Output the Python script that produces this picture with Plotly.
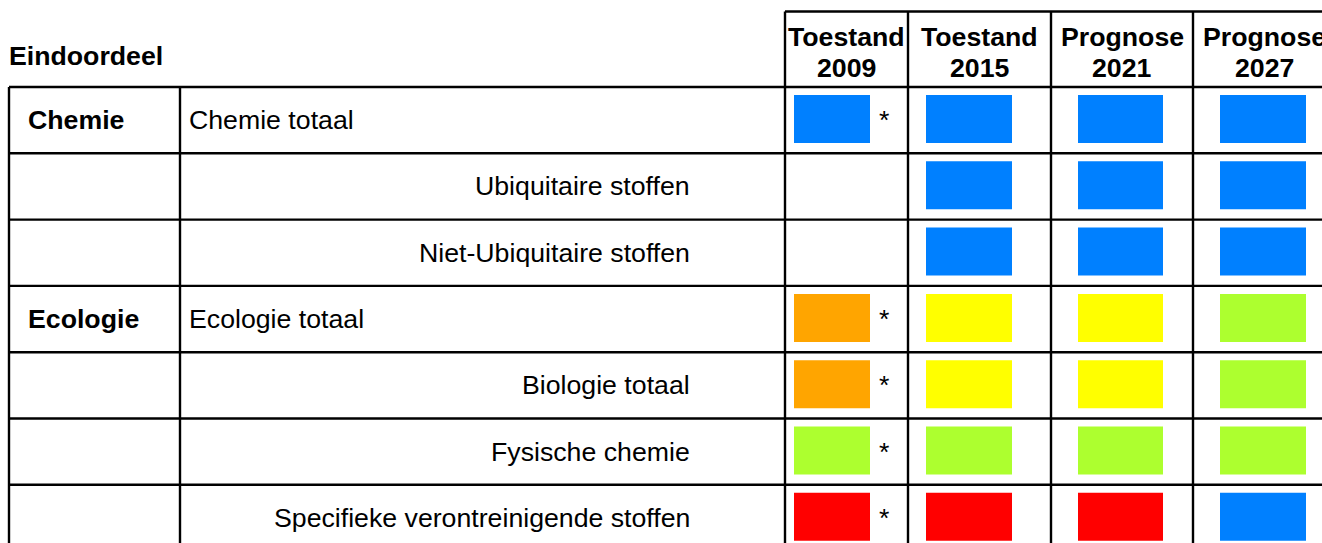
import plotly.graph_objects as go

# ---------------- data ----------------
groups = ["Chemie", "", "", "Ecologie", "", "", ""]
rows = ["Chemie totaal", "Ubiquitaire stoffen", "Niet-Ubiquitaire stoffen",
        "Ecologie totaal", "Biologie totaal", "Fysische chemie",
        "Specifieke verontreinigende stoffen"]
row_is_total = [True, False, False, True, False, False, False]
col_line1 = ["Toestand", "Toestand", "Prognose", "Prognose"]
col_line2 = ["2009", "2015", "2021", "2027"]
toestand_2009 = ["blauw", None, None, "oranje", "oranje", "groen", "rood"]
toestand_2015 = ["blauw", "blauw", "blauw", "geel", "geel", "groen", "rood"]
prognose_2021 = ["blauw", "blauw", "blauw", "geel", "geel", "groen", "rood"]
prognose_2027 = ["blauw", "blauw", "blauw", "groen", "groen", "groen", "blauw"]
ster_2009 = [True, False, False, True, True, True, True]
title = "Eindoordeel"

# ---------------- style / layout ----------------
status_colors = {"blauw": "#0080FF", "oranje": "#FFA500", "geel": "#FFFF00",
                 "groen": "#ADFF2F", "rood": "#FF0000"}
W, H = 1322, 543
FONT = "Liberation Sans, Arial, sans-serif"
FS = 26.7
header_top = 11.5
table_top = 87.0
row_h = 66.3
x_left = 9
x_div = 180
col_edges = [785, 908, 1051, 1193, 1335]
box_off = [9, 18, 27, 27]
box_w = [76, 86, 85, 86]
star_x = 884
LW = 2.4

columns = [toestand_2009, toestand_2015, prognose_2021, prognose_2027]
stars = [ster_2009, None, None, None]

shapes = []
annotations = []

def line(x0, y0, x1, y1):
    shapes.append(dict(type="line", xref="x", yref="y", x0=x0, y0=y0, x1=x1, y1=y1,
                       line=dict(color="black", width=LW)))

n = len(rows)
bottom = table_top + row_h * n
# horizontal lines
line(col_edges[0], header_top, W + 20, header_top)
for i in range(n + 1):
    y = table_top + row_h * i
    line(x_left, y, W + 20, y)
# vertical lines
line(x_left, table_top, x_left, bottom)
line(x_div, table_top, x_div, bottom)
for xe in col_edges[:-1]:
    line(xe, header_top, xe, bottom)

# title
annotations.append(dict(x=x_left - 2.5, y=56, text="<b>%s</b>" % title, xanchor="left",
                        yanchor="middle", showarrow=False))
# column headers
for j in range(len(col_line1)):
    cx = (col_edges[j] + col_edges[j + 1]) / 2
    annotations.append(dict(x=cx, y=37, text="<b>%s</b>" % col_line1[j], xanchor="center",
                            yanchor="middle", showarrow=False))
    annotations.append(dict(x=cx, y=68, text="<b>%s</b>" % col_line2[j], xanchor="center",
                            yanchor="middle", showarrow=False))

# rows
for i in range(n):
    top = table_top + row_h * i
    ty = top + 33
    if groups[i]:
        annotations.append(dict(x=26, y=ty, text="<b>%s</b>" % groups[i], xanchor="left",
                                yanchor="middle", showarrow=False))
    if row_is_total[i]:
        annotations.append(dict(x=186.5, y=ty, text=rows[i], xanchor="left",
                                yanchor="middle", showarrow=False))
    else:
        annotations.append(dict(x=692, y=ty, text=rows[i], xanchor="right",
                                yanchor="middle", showarrow=False))
    for j, col in enumerate(columns):
        st = col[i]
        if st is None:
            continue
        x0 = col_edges[j] + box_off[j]
        shapes.append(dict(type="rect", xref="x", yref="y", x0=x0, x1=x0 + box_w[j],
                           y0=top + 8, y1=top + 56, fillcolor=status_colors[st],
                           line=dict(width=0), layer="below"))
        if stars[j] is not None and stars[j][i]:
            annotations.append(dict(x=star_x, y=ty, text="*", xanchor="center",
                                    yanchor="middle", showarrow=False))

fig = go.Figure()
fig.add_trace(go.Scatter(x=[0, W], y=[0, H], mode="markers",
                         marker=dict(opacity=0), hoverinfo="skip", showlegend=False))
fig.update_layout(
    width=W, height=H, margin=dict(l=0, r=0, t=0, b=0),
    paper_bgcolor="white", plot_bgcolor="white",
    font=dict(family=FONT, size=FS, color="black"),
    xaxis=dict(range=[0, W], visible=False, fixedrange=True),
    yaxis=dict(range=[H, 0], visible=False, fixedrange=True),
    shapes=shapes, annotations=annotations, showlegend=False,
)
fig.write_html("out.html", config={"displayModeBar": False},
               post_script="document.body.style.margin='0';document.body.style.overflow='hidden';")
